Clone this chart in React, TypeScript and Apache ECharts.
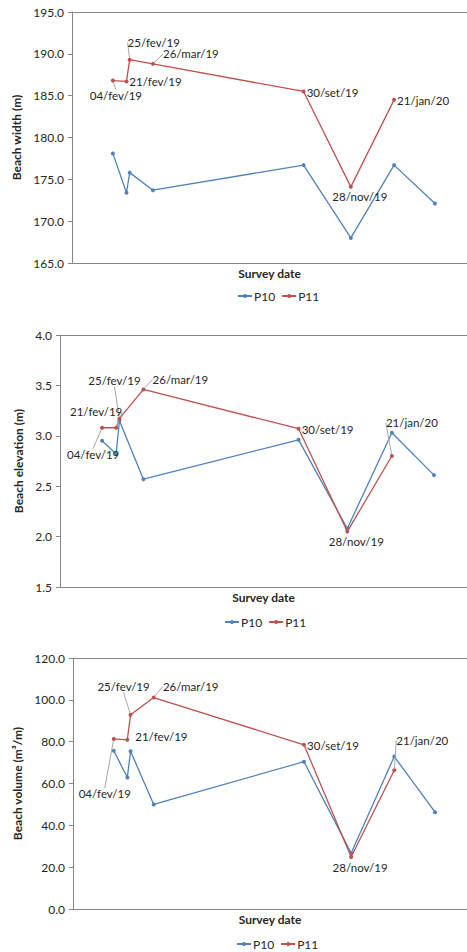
import React, { useEffect, useRef } from "react";
import * as echarts from "echarts";

// ---- data ----
const p10Dates = ["2019-02-04", "2019-02-21", "2019-02-25", "2019-03-26", "2019-09-30", "2019-11-28", "2020-01-21", "2020-03-12"];
const p11Dates = ["2019-02-04", "2019-02-21", "2019-02-25", "2019-03-26", "2019-09-30", "2019-11-28", "2020-01-21"];
const dateLabels = ["04/fev/19", "21/fev/19", "25/fev/19", "26/mar/19", "30/set/19", "28/nov/19", "21/jan/20"];

const widthP10 = [178.1, 173.4, 175.8, 173.7, 176.7, 168.0, 176.7, 172.1];
const widthP11 = [186.8, 186.7, 189.3, 188.8, 185.5, 174.1, 184.5];
const elevP10 = [2.95, 2.82, 3.15, 2.57, 2.96, 2.08, 3.03, 2.61];
const elevP11 = [3.08, 3.08, 3.17, 3.46, 3.07, 2.05, 2.8];
const volP10 = [75.7, 62.9, 75.4, 50.0, 70.4, 26.7, 72.9, 46.3];
const volP11 = [81.3, 80.9, 92.9, 101.1, 78.5, 24.9, 66.3];

const xMin = "2018-12-15";
const xMax = "2020-04-21";

const BLUE = "#4F81BD";
const RED = "#C0504D";
const AXIS = "#868686";
const TXT = "#262626";
const FONT = "Lato";

type Panel = {
  title: string;
  p10: number[];
  p11: number[];
  min: number;
  max: number;
  interval: number;
  left: number;
  top: number;
  height: number;
  legendLeft: number;
  legendTop: number;
  nameGap: number;
  offsets: number[][];
  leaders: boolean[];
};

const panels: Panel[] = [
  {
    title: "Beach width (m)",
    p10: widthP10, p11: widthP11,
    min: 165, max: 195, interval: 5,
    left: 72, top: 12, height: 251,
    legendLeft: 237, legendTop: 290, nameGap: 44,
    offsets: [[3, 15], [29, 0], [24, -17], [38, -10], [29, 1], [9, 10], [29, 1]],
    leaders: [true, false, true, true, false, false, false],
  },
  {
    title: "Beach elevation (m)",
    p10: elevP10, p11: elevP11,
    min: 1.5, max: 4.0, interval: 0.5,
    left: 60, top: 335, height: 252,
    legendLeft: 224, legendTop: 616, nameGap: 32,
    offsets: [[-9, 27], [-20, -16], [-5, -38], [37, -10], [29, 1], [9, 10], [20, -33]],
    leaders: [true, true, true, true, false, false, true],
  },
  {
    title: "Beach volume (m³/m)",
    p10: volP10, p11: volP11,
    min: 0, max: 120, interval: 20,
    left: 73, top: 658, height: 251,
    legendLeft: 236, legendTop: 938, nameGap: 44,
    offsets: [[-9, 55], [34, -3], [-7, -28], [37, -11], [29, 1], [9, 11], [28, -30]],
    leaders: [true, false, true, true, false, false, true],
  },
];

function buildOption() {
  const grid: any[] = [];
  const xAxis: any[] = [];
  const yAxis: any[] = [];
  const series: any[] = [];
  const legend: any[] = [];

  panels.forEach((p, i) => {
    grid.push({ left: p.left, top: p.top, height: p.height, right: 0, containLabel: false });
    // bottom axis
    xAxis.push({
      type: "time", gridIndex: i, min: xMin, max: xMax,
      name: "Survey date", nameLocation: "middle", nameGap: 4,
      nameTextStyle: { fontFamily: FONT, fontWeight: "bold", fontSize: 12, color: TXT, verticalAlign: "top" },
      axisLine: { show: true, lineStyle: { color: AXIS, width: 1 } },
      axisTick: { show: false }, axisLabel: { show: false }, splitLine: { show: false },
    });
    // top border
    xAxis.push({
      type: "time", gridIndex: i, min: xMin, max: xMax, position: "top",
      axisLine: { show: true, lineStyle: { color: AXIS, width: 1 } },
      axisTick: { show: false }, axisLabel: { show: false }, splitLine: { show: false },
    });
    yAxis.push({
      type: "value", gridIndex: i, min: p.min, max: p.max, interval: p.interval,
      name: p.title, nameLocation: "middle", nameGap: p.nameGap, nameRotate: 90,
      nameTextStyle: { fontFamily: FONT, fontWeight: "bold", fontSize: 12, color: TXT },
      axisLine: { show: true, lineStyle: { color: AXIS, width: 1 } },
      axisTick: { show: true, inside: false, length: 4, lineStyle: { color: AXIS } },
      axisLabel: {
        fontFamily: FONT, fontSize: 12, color: TXT, margin: 8,
        formatter: (v: number) => v.toFixed(1),
      },
      splitLine: { show: false },
    });

    const offs = p.offsets;
    series.push({
      name: "P10", type: "line", xAxisIndex: i * 2, yAxisIndex: i,
      data: p10Dates.map((d, k) => [d, p.p10[k]]),
      symbol: "circle", symbolSize: 4, showSymbol: true,
      itemStyle: { color: BLUE }, lineStyle: { color: BLUE, width: 1.3 },
      z: 2,
    });
    series.push({
      name: "P11", type: "line", xAxisIndex: i * 2, yAxisIndex: i,
      data: p11Dates.map((d, k) => ({
        value: [d, p.p11[k]],
        label: { show: true, formatter: dateLabels[k] },
        labelLine: { show: p.leaders[k] },
      })),
      symbol: "circle", symbolSize: 4, showSymbol: true,
      itemStyle: { color: RED }, lineStyle: { color: RED, width: 1.3 },
      label: {
        show: true, position: "inside", fontFamily: FONT, fontSize: 11.5, color: TXT,
      },
      labelLine: { show: false, lineStyle: { color: "#A6A6A6", width: 1 } },
      labelLayout: (params: any) => ({ dx: offs[params.dataIndex][0], dy: offs[params.dataIndex][1] }),
      z: 3,
    });

    legend.push({
      data: ["P10", "P11"], left: p.legendLeft, top: p.legendTop, padding: 0,
      itemWidth: 14, itemHeight: 5, itemGap: 6,
      textStyle: { fontFamily: FONT, fontSize: 12, color: TXT, padding: [0, 0, 0, -3] },
      selectedMode: false,
    });
  });

  return {
    animation: false,
    backgroundColor: "#ffffff",
    textStyle: { fontFamily: FONT },
    grid, xAxis, yAxis, series, legend,
  };
}

export default function App() {
  const ref = useRef<HTMLDivElement>(null);
  useEffect(() => {
    document.body.style.margin = "0";
    if (!ref.current) return;
    const chart = echarts.init(ref.current, undefined, { renderer: "svg" });
    chart.setOption(buildOption() as any);
    return () => chart.dispose();
  }, []);
  return <div ref={ref} style={{ width: 467, height: 952 }} />;
}
